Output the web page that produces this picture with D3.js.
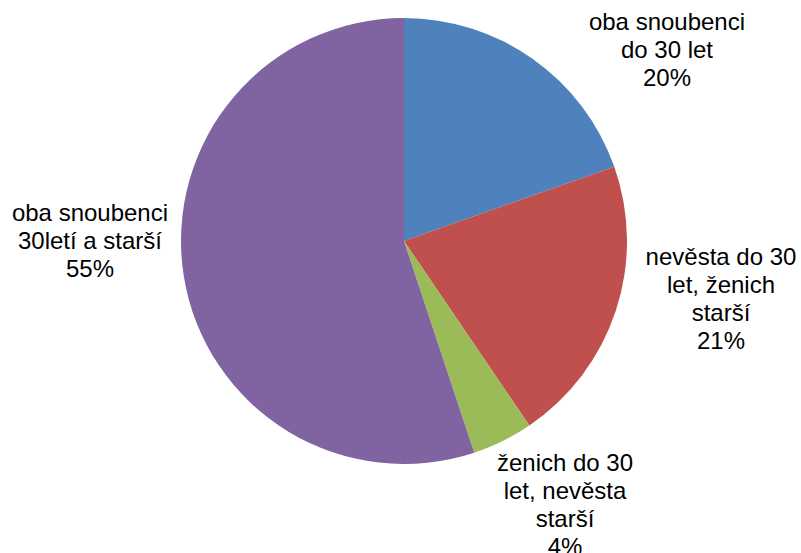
<!DOCTYPE html>
<html>
<head>
<meta charset="utf-8">
<script src="https://cdn.jsdelivr.net/npm/d3@7"></script>
<style>
  body { margin: 0; background: #fff; }
  text { font-family: "Liberation Sans", Arial, sans-serif; }
</style>
</head>
<body>
<div id="chart"></div>
<script>
let width = 801
let height = 553

// slice shares in percent (clockwise from top)
const categories = ['oba snoubenci do 30 let', 'nevěsta do 30 let, ženich starší', 'ženich do 30 let, nevěsta starší', 'oba snoubenci 30letí a starší']
const values = [19.6, 20.9, 4.4, 55.1]
const percentLabels = ['20%', '21%', '4%', '55%']
const labelLines = [
    ['oba snoubenci', 'do 30 let'],
    ['nevěsta do 30', 'let, ženich', 'starší'],
    ['ženich do 30', 'let, nevěsta', 'starší'],
    ['oba snoubenci', '30letí a starší']
]
const colors = ['#4F81BD', '#C0504D', '#9BBB59', '#8064A2']

let cx = 404
let cy = 241
let radius = 223
let lineHeight = 28

// label anchor (centre x, first baseline)
let labelPos = [
    [667, 30],
    [721, 265],
    [565, 471],
    [90, 221]
]

let svg = d3.select('#chart')
            .append('svg')
            .attr('width', width)
            .attr('height', height)

let pie = d3.pie()
            .sort(null)
            .value(d => d)

let arc = d3.arc()
            .innerRadius(0)
            .outerRadius(radius)

let grp = svg.append('g')
            .attr('transform', 'translate(' + cx + ',' + cy + ')')

grp.selectAll('path')
    .data(pie(values))
    .enter()
    .append('path')
    .attr('d', arc)
    .attr('fill', (d, i) => colors[i])
    .append('title')
    .text((d, i) => categories[i] + ': ' + percentLabels[i])

let labels = svg.selectAll('.label')
    .data(labelLines)
    .enter()
    .append('text')
    .attr('class', 'label')
    .attr('text-anchor', 'middle')
    .style('font-size', '24px')
    .attr('fill', '#000')

labels.each(function(lines, i) {
    let t = d3.select(this)
    lines.concat([percentLabels[i]]).forEach((line, j) => {
        t.append('tspan')
            .attr('x', labelPos[i][0])
            .attr('y', labelPos[i][1] + j * lineHeight)
            .text(line)
    })
})
</script>
</body>
</html>
